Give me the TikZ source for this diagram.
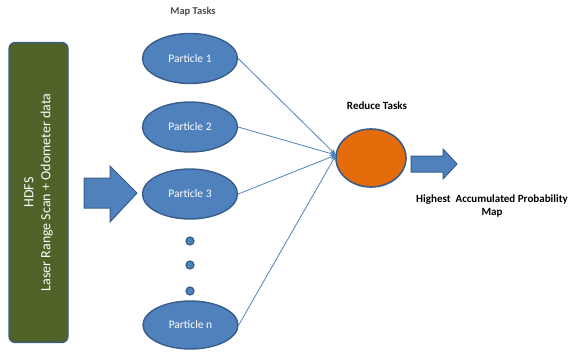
\documentclass[tikz,border=0pt]{standalone}
\usepackage{fontspec}
\setmainfont{Carlito}
\usetikzlibrary{arrows.meta}
\definecolor{accblue}{HTML}{4F81BD}
\definecolor{edgeblue}{HTML}{385D8A}
\definecolor{olivebox}{HTML}{4F6228}
\definecolor{orangered}{HTML}{E46C0A}
\tikzset{
  x=1pt, y=-1pt,
  particle/.style={ellipse, draw=edgeblue, line width=1.4pt, fill=accblue, minimum width=95pt, minimum height=50pt, text=white, font=\fontsize{11.5}{13}\selectfont, inner sep=0pt},
  dotnode/.style={circle, draw=edgeblue, line width=1.2pt, fill=accblue, minimum size=8pt, inner sep=0pt},
  conn/.style={draw=accblue, line width=0.8pt, -{Stealth[length=6pt,width=5pt]}},
  blockarrow/.style={draw=edgeblue, line width=1pt, fill=accblue, line join=miter},
  lbl/.style={font=\bfseries\fontsize{11}{13.5}\selectfont, align=center}
}
\usetikzlibrary{shapes.geometric}
\begin{document}
\begin{tikzpicture}
\useasboundingbox (0,0) rectangle (570,354);
% green HDFS box
\node[draw=edgeblue, line width=1.2pt, fill=olivebox, rounded corners=6pt, minimum width=59pt, minimum height=300pt, inner sep=0pt] (hdfs) at (38.5,192.5) {};
\node[rotate=90, text=white, align=center, font=\fontsize{14}{17}\selectfont] (hdfstxt) at (hdfs.center) {HDFS\\Laser Range Scan + Odometer data};
% left block arrow
\draw[blockarrow] (84,178) coordinate (la1) -- (110,178) -- (110,166) -- (137,193) coordinate (latip) -- (110,222) -- (110,208) -- (84,208) -- cycle;
% labels
\node[font=\bfseries\fontsize{10.5}{12}\selectfont, text=black!70] (maptasks) at (193,12) {Map Tasks};
% particles
\node[particle] (p1) at (190,58.5) {Particle 1};
\node[particle] (p2) at (190,127) {Particle 2};
\node[particle] (p3) at (190,194) {Particle 3};
\node[particle, minimum height=48pt] (pn) at (190.5,325) {Particle n};
\node[dotnode] (d1) at (190,241) {};
\node[dotnode] (d2) at (190,265) {};
\node[dotnode] (d3) at (190,291) {};
% reduce
\node[ellipse, draw=edgeblue, line width=1.6pt, fill=orangered, minimum width=70pt, minimum height=58pt, inner sep=0pt] (red) at (371,158) {};
\node[lbl] (redtxt) at (377,106) {Reduce Tasks};
\coordinate (rin) at (336,155);
\draw[conn] (p1.east) -- (rin);
\draw[conn] (p2.east) -- (rin);
\draw[conn] (p3.east) -- (rin);
\draw[conn] (pn.east) -- (rin);
% right block arrow
\draw[blockarrow] (411,156) coordinate (ra1) -- (443,156) -- (443,149) -- (457,164) coordinate (ratip) -- (443,179) -- (443,172) -- (411,172) -- cycle;
\node[lbl] (out) at (492,206) {Highest~ Accumulated Probability\\Map};
\end{tikzpicture}
\end{document}
